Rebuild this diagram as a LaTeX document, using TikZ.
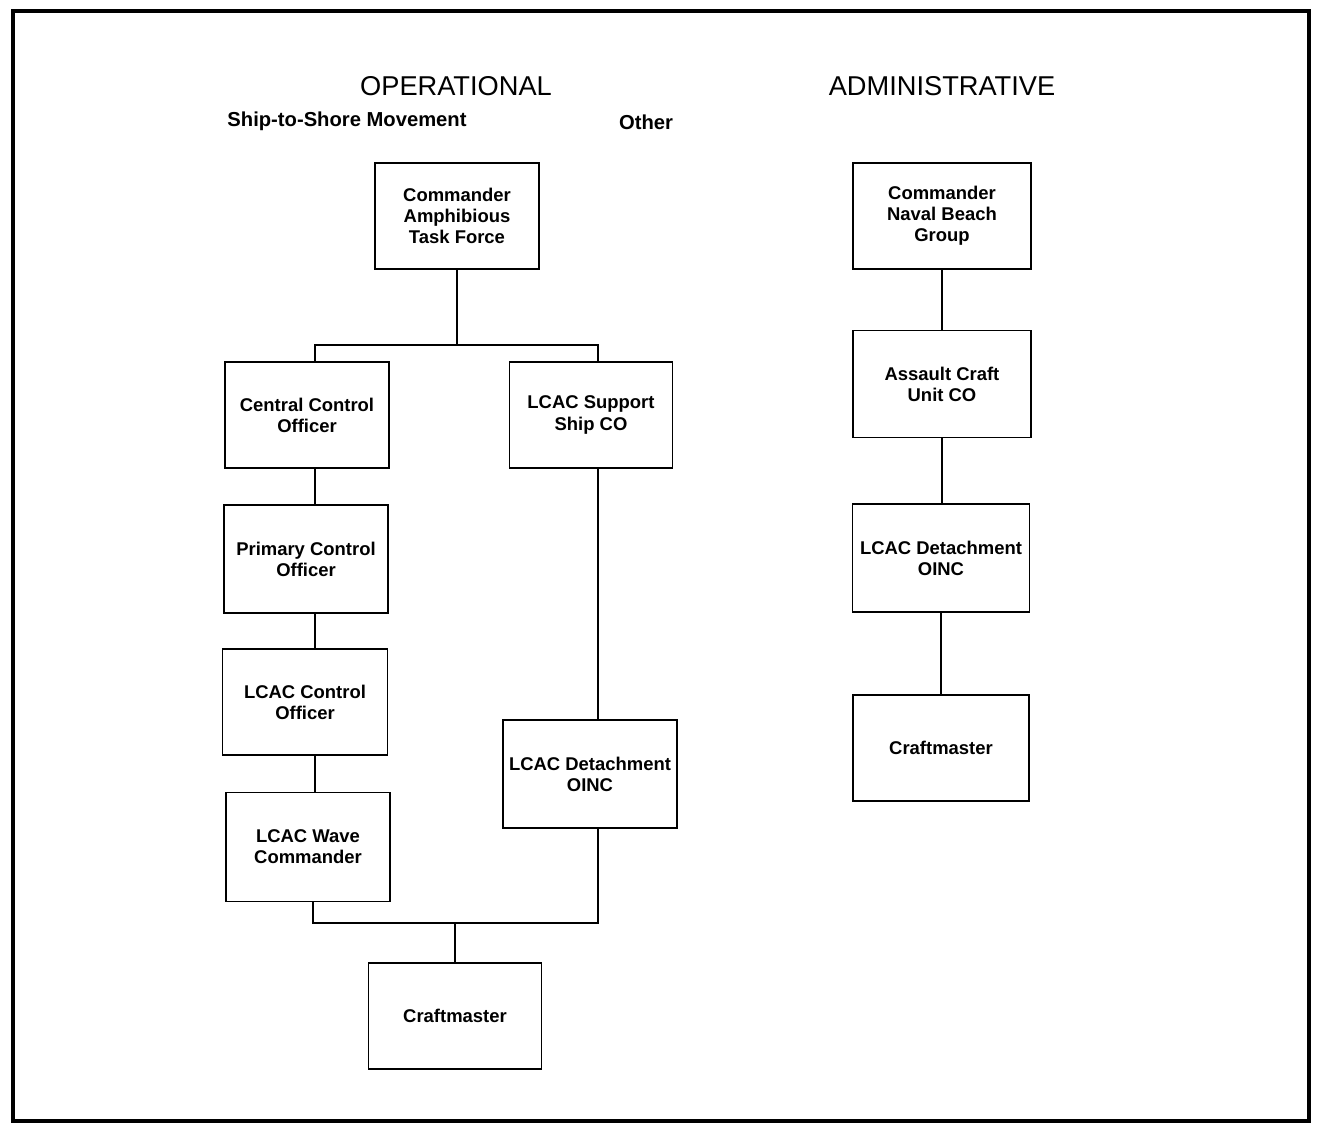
\documentclass[tikz,border=0pt]{standalone}
\usepackage{fontspec}
\setmainfont{Liberation Sans}
\usepackage{tikz}

\begin{document}
\begin{tikzpicture}[x=0.02cm,y=-0.02cm,
    post/.style={draw,line width=1.1pt,align=center,inner sep=2pt,
      minimum width=3.28cm,minimum height=2.12cm,
      font=\fontsize{10.5}{12}\selectfont\bfseries},
    wire/.style={line width=1.1pt},
    heading/.style={font=\fontsize{15.5}{18}\selectfont},
    subheading/.style={font=\fontsize{11.5}{14}\selectfont\bfseries}]
        \useasboundingbox (0,0) rectangle (1320,1125);
        \draw[line width=2.8pt] (13,11) rectangle (1309,1121);
        \node[heading] (ophead) at (456,86) {OPERATIONAL};
        \node[heading] (adhead) at (942,86) {ADMINISTRATIVE};
        \node[subheading] (sts) at (347,121) {Ship-to-Shore Movement};
        \node[subheading] (oth) at (646,122) {Other};
        % operational chain
        \node[post] (catf) at (457,216) {Commander\\Amphibious\\Task Force};
        \node[post] (cco) at (307,415) {Central Control\\Officer};
        \node[post,minimum width=3.26cm] (lss) at (591,415) {LCAC Support\\Ship CO};
        \node[post,minimum height=2.16cm] (pco) at (306,559) {Primary Control\\Officer};
        \node[post,minimum width=3.30cm] (lco) at (305,702) {LCAC Control\\Officer};
        \node[post,minimum height=2.18cm] (lwc) at (308,847) {LCAC Wave\\Commander};
        \node[post,minimum width=3.48cm,minimum height=2.16cm] (dto) at (590,774) {LCAC Detachment\\OINC};
        \node[post,minimum width=3.46cm] (crm) at (455,1016) {Craftmaster};
        % administrative chain
        \node[post,minimum width=3.56cm] (cnbg) at (942,216) {Commander\\Naval Beach\\Group};
        \node[post,minimum width=3.56cm,minimum height=2.14cm] (acu) at (942,384) {Assault Craft\\Unit CO};
        \node[post,minimum width=3.54cm,minimum height=2.16cm] (dta) at (941,558) {LCAC Detachment\\OINC};
        \node[post,minimum width=3.52cm] (crma) at (941,748) {Craftmaster};
        \coordinate (opbar) at (457,345);
        \coordinate (lbar) at (315,345);
        \coordinate (rbar) at (598,345);
        \coordinate (lfoot) at (313,923);
        \coordinate (rfoot) at (598,923);
        \coordinate (cfoot) at (455,923);
        \draw[wire] (catf.south) -- (opbar);
        \draw[wire] (cco.north -| lbar) -- (lbar) -- (rbar) -- (lss.north -| rbar);
        \draw[wire] (cco.south -| lbar) -- (pco.north -| lbar);
        \draw[wire] (pco.south -| lbar) -- (lco.north -| lbar);
        \draw[wire] (lco.south -| lbar) -- (lwc.north -| lbar);
        \draw[wire] (lss.south -| rbar) -- (dto.north -| rbar);
        \draw[wire] (lwc.south -| lfoot) -- (lfoot) -- (rfoot) -- (dto.south -| rfoot);
        \draw[wire] (cfoot) -- (crm.north);
        \draw[wire] (cnbg.south) -- (acu.north);
        \draw[wire] (acu.south) -- (acu.south |- dta.north);
        \draw[wire] (dta.south) -- (dta.south |- crma.north);
      \end{tikzpicture}
\end{document}
